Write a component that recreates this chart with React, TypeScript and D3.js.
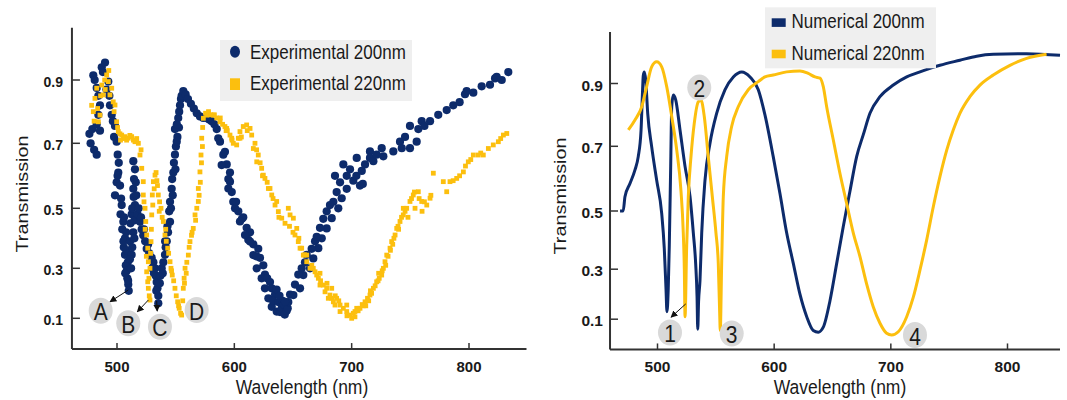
import React from "react";
import * as d3 from "d3";

// colours picked from the figure
const NAVY = "#0d2b6b";
const GOLD = "#fcbf0e";
const FONT = '"Liberation Sans", Arial, Helvetica, sans-serif';
const SY = 1.18; // the source figure is stretched vertically a little

const yTicks = [0.1, 0.3, 0.5, 0.7, 0.9];
const xTicks = [500, 600, 700, 800];

// Experimental 200nm (navy dots) [wavelength nm, transmission]
const exp200: [number, number][] = [
  [476.5, 0.73], [477.5, 0.7], [479, 0.745], [480.5, 0.68], [482.7, 0.665],
  [479.8, 0.915], [481, 0.9], [482.7, 0.875], [484.1, 0.85], [485.5, 0.82], [484.1, 0.79], [482.7, 0.76], [485.5, 0.74],
  [487, 0.94], [488, 0.925], [489.8, 0.955], [491, 0.87], [492.6, 0.895], [493.5, 0.85], [494, 0.82], [495.5, 0.79], [496.5, 0.77],
  [498.3, 0.755], [497.5, 0.72], [499.7, 0.705], [500.6, 0.665], [501.1, 0.61], [499.7, 0.58], [502.6, 0.57], [498.3, 0.54], [500.5, 0.6], [501.5, 0.64],
  [504, 0.51], [503, 0.48], [505.4, 0.455], [504.5, 0.43], [506.8, 0.4], [505.8, 0.37], [506.8, 0.345], [507.5, 0.31], [508.3, 0.29], [508.8, 0.26], [509.6, 0.235], [510, 0.21],
  [503.5, 0.53], [506, 0.47], [507.8, 0.42], [505.5, 0.39], [508, 0.36], [509.2, 0.32], [507, 0.28], [509.5, 0.25],
  [513.9, 0.645], [515.3, 0.62], [514.5, 0.59], [513.9, 0.56], [515.3, 0.51], [514.2, 0.535], [512.5, 0.48], [513.9, 0.42], [511.1, 0.39], [512.5, 0.345], [511.5, 0.45], [512, 0.3], [513, 0.37],
  [516, 0.58], [516.5, 0.54], [515, 0.46], [514.8, 0.4], [511, 0.33], [513, 0.5],
  [517.5, 0.48], [519.6, 0.455], [521, 0.43], [522.4, 0.41], [524, 0.39], [525.3, 0.365], [527.5, 0.35], [529.6, 0.335], [531, 0.32], [532.4, 0.3], [533, 0.27], [533.8, 0.245], [534.5, 0.22], [535.2, 0.19], [535.2, 0.16],
  [518.5, 0.5], [520.5, 0.47], [523, 0.43], [526.5, 0.38], [530, 0.3], [531.5, 0.28], [533.5, 0.21],
  [537, 0.27], [538.1, 0.3], [539.5, 0.32], [540.9, 0.345], [541.5, 0.37], [542.4, 0.39], [543.5, 0.42], [545.2, 0.455], [544.5, 0.49], [545.2, 0.52], [546.6, 0.56], [547, 0.59], [548, 0.61], [548.5, 0.64],
  [536.5, 0.24], [539, 0.28], [541, 0.39], [543, 0.44], [546, 0.5], [547.5, 0.54], [549.8, 0.62], [551.5, 0.72], [552.8, 0.75],
  [549.4, 0.665], [550.2, 0.69], [550.9, 0.705], [549.4, 0.745], [551, 0.76], [552.2, 0.78], [553, 0.8], [553.7, 0.82], [554.5, 0.84], [555.1, 0.85], [556.5, 0.865],
  [558.5, 0.855], [560.5, 0.84], [563, 0.825], [565.5, 0.81], [568, 0.795],
  [570.7, 0.785], [573.5, 0.78], [576.5, 0.78], [578.5, 0.775], [580.7, 0.77], [583, 0.76], [585, 0.745], [587.8, 0.705], [590.6, 0.665], [593.5, 0.635], [596.3, 0.61],
  [586.3, 0.716], [592, 0.674], [589.2, 0.633], [596.3, 0.582], [594.9, 0.561],
  [594.9, 0.59], [597.8, 0.55], [599.1, 0.52], [601.5, 0.52], [603.4, 0.49], [607.6, 0.47], [606.5, 0.465], [610.5, 0.435], [613.4, 0.42], [611.9, 0.395], [616.2, 0.38],
  [600.6, 0.5], [604.8, 0.456], [609.1, 0.411], [613.4, 0.389], [616.2, 0.344], [619.1, 0.3], [623.3, 0.26], [626.1, 0.22], [629, 0.18], [631.9, 0.146], [636.1, 0.127],
  [620.4, 0.365], [621.9, 0.335], [619, 0.34], [624.7, 0.31], [626.1, 0.275], [628, 0.26], [630.4, 0.245], [631.9, 0.22], [634.7, 0.195], [636, 0.215], [633, 0.17],
  [637.5, 0.165], [639, 0.125], [640.4, 0.14], [641, 0.17], [642, 0.155], [643, 0.115], [644.6, 0.13], [645.5, 0.14], [638.5, 0.19], [646, 0.165], [647.5, 0.195],
  [643.2, 0.166], [650.3, 0.193], [656, 0.22], [658.8, 0.273], [664.5, 0.3], [667.3, 0.333], [671.6, 0.367], [674.5, 0.4], [678.7, 0.433], [683, 0.467], [688.6, 0.5], [691.5, 0.531],
  [651.7, 0.235], [654.5, 0.275], [657.4, 0.3], [660.2, 0.32], [661.7, 0.345], [665.9, 0.365], [668.8, 0.39], [670.2, 0.405], [673, 0.435], [675.8, 0.465],
  [678.7, 0.49], [681.5, 0.51], [684.4, 0.52], [687.2, 0.55], [685.8, 0.6], [690.1, 0.58], [692.9, 0.635], [695.8, 0.6], [695.8, 0.56], [698.6, 0.62],
  [701.4, 0.585], [704.3, 0.655], [704, 0.6], [707.1, 0.57], [708.6, 0.615], [711.4, 0.635], [709.5, 0.575], [715.6, 0.675], [715.6, 0.655], [718.5, 0.645],
  [721.3, 0.665], [725.6, 0.685], [727, 0.66], [735.5, 0.675], [741.2, 0.705], [742.7, 0.685], [745.5, 0.72], [749.7, 0.755], [749.7, 0.685], [755.4, 0.705],
  [756.8, 0.745], [759.7, 0.77], [762, 0.755], [766.8, 0.77], [773.8, 0.79], [781, 0.805], [786.6, 0.82], [792, 0.83], [796.6, 0.855], [798, 0.865],
  [803.7, 0.86], [810.8, 0.88], [817.9, 0.885], [822.2, 0.905], [823.6, 0.91], [827.9, 0.9], [833.5, 0.925],
];

// Experimental 220nm (gold squares)
const exp220: [number, number][] = [
  [478.4, 0.82], [479.8, 0.8], [481.2, 0.842], [482.7, 0.874], [484.1, 0.768], [485.5, 0.789], [487, 0.884], [488.3, 0.853], [489.5, 0.9], [491.2, 0.916],
  [492.6, 0.895], [494, 0.853], [495.5, 0.874], [496.8, 0.831], [498.3, 0.821], [499.7, 0.768], [501.1, 0.737], [502.5, 0.73], [504, 0.726], [505.5, 0.715],
  [480.5, 0.77], [483.5, 0.81], [486, 0.85], [490, 0.87], [493, 0.93], [497.5, 0.8], [500.5, 0.75], [503, 0.71],
  [506.8, 0.721], [508.2, 0.71], [509.6, 0.716], [511, 0.725], [512.5, 0.721], [514, 0.71], [515.3, 0.705], [516.8, 0.715], [518.2, 0.7], [519.6, 0.664],
  [521.1, 0.623], [522.4, 0.582], [522.4, 0.541], [523.9, 0.5], [524.5, 0.456], [525.3, 0.411], [526.2, 0.367], [526.7, 0.322], [525.3, 0.286], [526.2, 0.246],
  [526.7, 0.22], [527.5, 0.19], [528.1, 0.173], [520.5, 0.68], [523, 0.52], [524, 0.43], [525, 0.34], [527.2, 0.26],
  [528.1, 0.3], [529, 0.389], [529.6, 0.478], [530.1, 0.541], [531, 0.582], [532.4, 0.602], [533.3, 0.61], [534, 0.585],
  [528.6, 0.35], [529.3, 0.43], [530.5, 0.51], [531.7, 0.56], [534.5, 0.57],
  [535.2, 0.541], [536.3, 0.52], [537.5, 0.5], [539.5, 0.456], [540.9, 0.411], [542, 0.39], [543.2, 0.367], [545.2, 0.322], [546, 0.3], [547.1, 0.273],
  [536, 0.49], [538.5, 0.47], [541.5, 0.43], [544, 0.35], [546.5, 0.29], [550.5, 0.19], [552.5, 0.15],
  [548.3, 0.25], [549.4, 0.22], [551.7, 0.166], [553, 0.14], [554.2, 0.12], [555.1, 0.113],
  [556.5, 0.22], [557.2, 0.26], [558, 0.3], [559.5, 0.32], [560.8, 0.344], [562.2, 0.389], [563.5, 0.41], [565, 0.433], [566.5, 0.478], [568, 0.5],
  [556, 0.17], [557.5, 0.24], [559, 0.28], [561.5, 0.37], [564, 0.42], [567, 0.46], [570, 0.54], [571, 0.58], [572, 0.64], [572.8, 0.69],
  [569.3, 0.521], [569.3, 0.561], [570.7, 0.612], [571.6, 0.664], [572.2, 0.716], [573, 0.75], [573.6, 0.779],
  [575.5, 0.795], [576.5, 0.789], [577.8, 0.795], [578, 0.8], [580, 0.79], [582.1, 0.789], [583, 0.79], [585, 0.78], [587.8, 0.768], [588, 0.78], [590, 0.76], [592, 0.753],
  [593, 0.74], [593.5, 0.747], [594, 0.74], [596.3, 0.726], [597.8, 0.716], [598, 0.71], [599.1, 0.7], [602, 0.695], [603.4, 0.716], [604.8, 0.737], [604.8, 0.716], [606, 0.72], [607.6, 0.753],
  [610.5, 0.758], [611, 0.74], [613.4, 0.747], [614.8, 0.726], [616.2, 0.684], [617.6, 0.7], [619, 0.68], [619.1, 0.643], [620.4, 0.664], [622, 0.64], [623.3, 0.623], [624, 0.6],
  [624.7, 0.602], [626.1, 0.592], [628, 0.58], [629, 0.561], [630.4, 0.561], [631.9, 0.541], [633, 0.53], [634.7, 0.51], [636.1, 0.521], [637.5, 0.489], [638, 0.47], [640.4, 0.467], [643.2, 0.45],
  [646, 0.5], [647, 0.44], [647.5, 0.478], [650, 0.42], [650.3, 0.467], [651.7, 0.411], [653.2, 0.433], [654.5, 0.389], [655, 0.4], [656, 0.367], [657.4, 0.367], [658.8, 0.344], [660, 0.345],
  [661.7, 0.322], [661.7, 0.344], [664.5, 0.3], [666, 0.31], [667.3, 0.3], [668.8, 0.286], [670.2, 0.273], [671.6, 0.26], [673, 0.28], [673, 0.233], [673.5, 0.25], [675.8, 0.233], [677.3, 0.206], [678.7, 0.22], [679, 0.24],
  [680.1, 0.18], [681.5, 0.193], [683, 0.18], [683, 0.22], [684.4, 0.166], [685.8, 0.153], [686, 0.19], [687.2, 0.18], [689, 0.17], [690.1, 0.153], [690.1, 0.127], [692.9, 0.14], [695.8, 0.127], [695.8, 0.153], [696, 0.11],
  [698.6, 0.113], [700, 0.1], [701.4, 0.12], [702.8, 0.106], [702.8, 0.127], [704.3, 0.14], [705.5, 0.13], [707.1, 0.14], [709, 0.155], [710, 0.15], [711.4, 0.166], [712, 0.15], [713.5, 0.18],
  [714.5, 0.17], [715.6, 0.193], [716, 0.21], [717, 0.2], [718.5, 0.22], [720, 0.23], [721.3, 0.246], [722.5, 0.25], [723, 0.28], [723.5, 0.26], [725.6, 0.273], [726, 0.29], [727, 0.3], [728.4, 0.322], [729, 0.31],
  [729.9, 0.344], [731, 0.34], [732.7, 0.367], [733, 0.36], [734.1, 0.389], [735, 0.38], [736, 0.4], [737, 0.411], [738.4, 0.433], [739.5, 0.44], [740, 0.43], [741.2, 0.456], [742.5, 0.47], [744, 0.478], [744, 0.5],
  [745.5, 0.49], [746.9, 0.5], [748, 0.47], [749.7, 0.521], [751, 0.53], [752.5, 0.541], [753.5, 0.55], [754, 0.5], [756.8, 0.551], [757.5, 0.53], [759.7, 0.521], [760, 0.49], [762, 0.52], [764, 0.51], [766.8, 0.531], [767.5, 0.54],
  [769.6, 0.608], [778.1, 0.582], [781, 0.551], [783.8, 0.582], [786.5, 0.585], [789.5, 0.592], [792, 0.6], [795.2, 0.612], [797, 0.63], [799.4, 0.643],
  [801.5, 0.65], [803.7, 0.664], [807.9, 0.664], [810, 0.67], [812.2, 0.664], [816.5, 0.684], [820.7, 0.695], [825, 0.705], [827, 0.715], [829.3, 0.726],
  [832.2, 0.731],
];

// Numerical 200nm (navy line)
const num200: [number, number][] = [
  [467.9, 0.5], [470.6, 0.5], [472.1, 0.544], [476.4, 0.585], [480.7, 0.627], [483.5, 0.668], [485.9, 0.751], [487, 0.858], [487.8, 0.925], [488.7, 0.937],
  [489.9, 0.911], [491.6, 0.805], [495, 0.699], [499.3, 0.595], [503.6, 0.492], [505.8, 0.372], [507.3, 0.22], [508.1, 0.13], [509.2, 0.22], [510.1, 0.38],
  [511.3, 0.638], [512.2, 0.826], [513.5, 0.863], [515.6, 0.848], [519.3, 0.752], [523.6, 0.638], [527.9, 0.544], [530.7, 0.425], [532.7, 0.32], [533.9, 0.19],
  [534.5, 0.06], [535.2, 0.17], [536.4, 0.253], [537.9, 0.425], [540.7, 0.595], [545, 0.71], [550.7, 0.805], [557.8, 0.88], [565, 0.921], [572.2, 0.937],
  [579.3, 0.921], [586.4, 0.88], [592.1, 0.8], [599.2, 0.668], [605, 0.553], [610.7, 0.425], [616.4, 0.32], [622.1, 0.2], [627.9, 0.11], [633.5, 0.055],
  [637.8, 0.048], [642.1, 0.068], [647.8, 0.173], [653.6, 0.32], [659.2, 0.446], [665, 0.562], [670.7, 0.668], [676.4, 0.737], [682.1, 0.805], [690.7, 0.858],
  [702.1, 0.895], [713.6, 0.921], [725, 0.937], [742.1, 0.958], [759.2, 0.974], [773.6, 0.987], [787.8, 0.993], [816.4, 0.995], [845, 0.99],
];

// Numerical 220nm (gold line)
const num220: [number, number][] = [
  [475, 0.752], [480.7, 0.784], [486.5, 0.826], [490.7, 0.89], [495, 0.953], [499.3, 0.969], [503.6, 0.953], [507.9, 0.89], [512.2, 0.795], [516.5, 0.688],
  [520.1, 0.563], [522.1, 0.425], [523, 0.3], [523.6, 0.11], [525, 0.377], [526.4, 0.544], [528.7, 0.668], [531.5, 0.773], [535, 0.842], [537.3, 0.847],
  [540.1, 0.795], [543.5, 0.668], [547, 0.544], [550.1, 0.425], [552.1, 0.32], [553.3, 0.124], [553.8, 0.055], [555, 0.32], [556.4, 0.544], [559.3, 0.668],
  [563.6, 0.764], [569.2, 0.826], [577.8, 0.88], [586.4, 0.906], [592.1, 0.921], [599.2, 0.927], [610.7, 0.937], [622.1, 0.94], [629.2, 0.932], [635, 0.921],
  [639.3, 0.917], [642.1, 0.89], [645, 0.826], [650.7, 0.72], [656.4, 0.616], [662.1, 0.524], [667.8, 0.425], [673.5, 0.344], [679.3, 0.24], [684.9, 0.15],
  [690.7, 0.084], [696.4, 0.044], [700.7, 0.037], [706.4, 0.05], [713.6, 0.11], [719.2, 0.187], [725, 0.297], [730.7, 0.4], [736.4, 0.513], [742.1, 0.606],
  [747.9, 0.688], [753.5, 0.752], [759.2, 0.805], [767.8, 0.858], [776.4, 0.895], [787.8, 0.927], [802.1, 0.958], [816.4, 0.98], [833.5, 0.993],
];

// circled markers [text, wavelength, transmission]
const leftMarks: [string, number, number][] = [["A", 486.1, 0.13], ["B", 509.6, 0.08], ["C", 536.6, 0.066], ["D", 567.9, 0.133]];
const leftArrows: [number, number, number, number][] = [[509.6, 0.213, 494, 0.166], [526.7, 0.173, 517.3, 0.126], [533.8, 0.169, 534.3, 0.129]];
const rightMarks: [string, number, number][] = [["1", 510.7, 0.047], ["2", 535.8, 0.887], ["3", 563.6, 0.043], ["4", 720.7, 0.037]];
const rightArrows: [number, number, number, number][] = [[524.2, 0.161, 511.6, 0.108]];

// scales (the tick spacing in the source is uneven, so y is piecewise)
const lx = d3.scaleLinear().domain([500, 800]).range([117, 469]);
const ly = d3.scaleLinear().domain(yTicks).range([318.3, 268.3, 208.3, 143.3, 80]);
const rx = d3.scaleLinear().domain([500, 800]).range([657.5, 1007.5]);
const ry = d3.scaleLinear().domain(yTicks).range([319.2, 269.2, 211, 146.3, 83.5]);

function Txt(props: any) {
  const { x, y, size, bold, anchor, rotate, baseline, flat, children } = props;
  const s = flat ? 1 : SY;
  const tr = rotate
    ? `translate(${x},${y}) rotate(-90) scale(${s},1)`
    : `translate(${x},${y}) scale(1,${s})`;
  return (
    <text transform={tr} fontFamily={FONT} fontSize={size} fontWeight={bold ? "bold" : "normal"}
      textAnchor={anchor || "start"} dominantBaseline={baseline} fill="#1a1a1a">
      {children}
    </text>
  );
}

function Axes(props: any) {
  const { x, y, xLo, xHi, yLo, yHi, yLabX, yFont, xFont, xTitle, yTitleX, yTitleY } = props;
  const x0 = x(xLo), x1 = x(xHi), y0 = y(yLo), y1 = y(yHi);
  return (
    <g>
      <line x1={x0} x2={x0} y1={y1} y2={y0} stroke="#333" strokeWidth={2} />
      <line x1={x0} x2={x1} y1={y0} y2={y0} stroke="#333" strokeWidth={2} />
      {yTicks.map((t) => (
        <g key={t}>
          <line x1={x0} x2={x0 + 8} y1={y(t)} y2={y(t)} stroke="#333" strokeWidth={1.5} />
          <Txt x={yLabX} y={y(t) + 1.5} size={yFont} bold flat anchor="end" baseline="central">{t.toFixed(1)}</Txt>
        </g>
      ))}
      {xTicks.map((t) => (
        <g key={t}>
          <line x1={x(t)} x2={x(t)} y1={y0} y2={y0 - 6} stroke="#333" strokeWidth={1.5} />
          <Txt x={x(t)} y={371.7} size={xFont} bold flat anchor="middle">{t}</Txt>
        </g>
      ))}
      <Txt x={xTitle} y={394} size={17.5} anchor="middle">Wavelength (nm)</Txt>
      <Txt x={yTitleX} y={yTitleY} size={16.8} anchor="middle" rotate>Transmission</Txt>
    </g>
  );
}

function Marks(props: any) {
  const { x, y, marks, arrows, id } = props;
  return (
    <g>
      <defs>
        <marker id={id} viewBox="0 0 10 10" refX="9" refY="5" markerWidth="7" markerHeight="7" orient="auto">
          <path d="M0,0 L10,5 L0,10 z" fill="#111" />
        </marker>
      </defs>
      {marks.map((m: [string, number, number]) => (
        <g key={m[0]}>
          <ellipse cx={x(m[1])} cy={y(m[2])} rx={12} ry={13} fill="#d9d9d9" />
          <Txt x={x(m[1])} y={y(m[2]) + 1} size={21} anchor="middle" baseline="central">{m[0]}</Txt>
        </g>
      ))}
      {arrows.map((a: number[], i: number) => (
        <line key={i} x1={x(a[0])} y1={y(a[1])} x2={x(a[2])} y2={y(a[3])} stroke="#111" strokeWidth={1} markerEnd={`url(#${id})`} />
      ))}
    </g>
  );
}

export default function App() {
  const line = (x: any, y: any) =>
    d3.line<[number, number]>().x((d) => x(d[0])).y((d) => y(d[1])).curve(d3.curveMonotoneX);
  const rLine = line(rx, ry);

  return (
    <svg width={1067} height={400} style={{ position: "absolute", left: 0, top: 0, background: "#fff" }}>
      {/* left: experimental */}
      <g>
        {exp200.map((d, i) => (
          <circle key={i} cx={lx(d[0])} cy={ly(d[1])} r={4.1} fill={NAVY} />
        ))}
        {exp220.map((d, i) => (
          <rect key={i} x={lx(d[0]) - 2.4} y={ly(d[1]) - 2.4} width={4.8} height={4.8} fill={GOLD} />
        ))}
        <Axes x={lx} y={ly} xLo={461.6} xHi={849} yLo={-0.023} yHi={1.065} yLabX={63} yFont={14} xFont={15}
          xTitle={302} yTitleX={27.5} yTitleY={194} />
        <Marks x={lx} y={ly} marks={leftMarks} arrows={leftArrows} id="arrL" />
        <rect x={220} y={40} width={192} height={61} fill="#efefef" />
        <ellipse cx={235} cy={51.7} rx={5} ry={6} fill={NAVY} />
        <rect x={230} y={78.3} width={10} height={11.7} fill={GOLD} />
        <Txt x={250} y={59.3} size={17}>Experimental 200nm</Txt>
        <Txt x={250} y={89.5} size={17}>Experimental 220nm</Txt>
      </g>

      {/* right: numerical */}
      <g>
        <path d={rLine(num200) || ""} fill="none" stroke={NAVY} strokeWidth={3} />
        <path d={rLine(num220) || ""} fill="none" stroke={GOLD} strokeWidth={3} />
        <Axes x={rx} y={ry} xLo={459.3} xHi={845} yLo={-0.021} yHi={1.064} yLabX={603} yFont={15.5} xFont={15.5}
          xTitle={840} yTitleX={566} yTitleY={196} />
        <Marks x={rx} y={ry} marks={rightMarks} arrows={rightArrows} id="arrR" />
        <rect x={765} y={7.3} width={171} height={61} fill="#efefef" />
        <rect x={771.7} y={18.3} width={14} height={8.6} fill={NAVY} />
        <rect x={771.7} y={49.7} width={14} height={8.6} fill={GOLD} />
        <Txt x={791.5} y={28.4} size={17}>Numerical 200nm</Txt>
        <Txt x={791.5} y={60.4} size={17}>Numerical 220nm</Txt>
      </g>
    </svg>
  );
}
